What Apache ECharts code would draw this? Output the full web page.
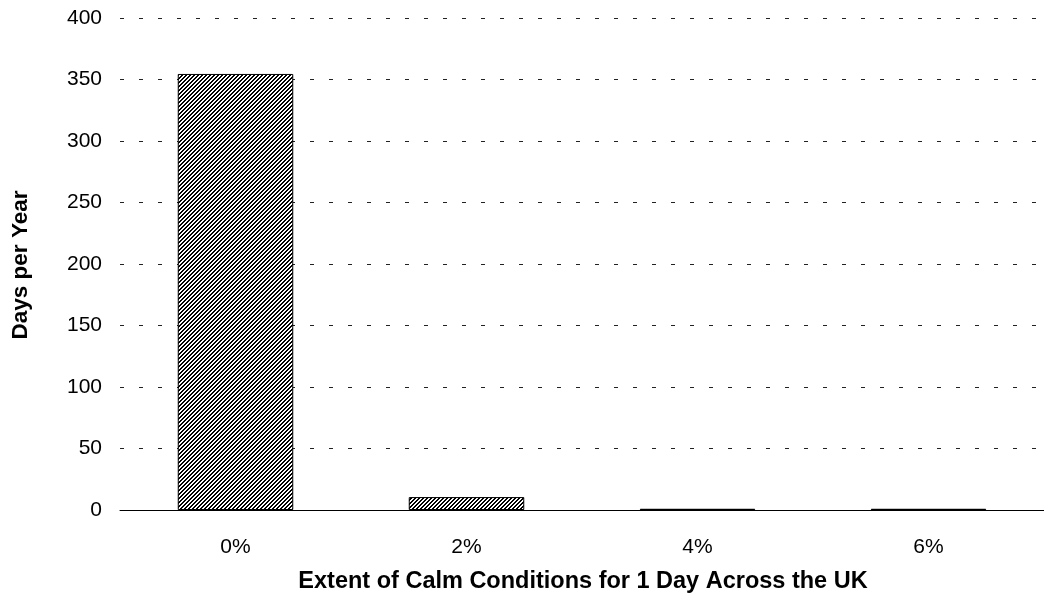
<!DOCTYPE html>
<html>
<head>
<meta charset="utf-8">
<script src="https://cdn.jsdelivr.net/npm/echarts@6/dist/echarts.min.js"></script>
<style>
  html, body { margin: 0; padding: 0; background: #fff; }
  #chart { width: 1044px; height: 599px; }
</style>
</head>
<body>
<div id="chart"></div>
<script>
const categories = ['0%', '2%', '4%', '6%'];
const daysPerYear = [354.5, 10.5, 1, 1];
const yTicks = { min: 0, max: 400, interval: 50 };

// crisp "/" hatch, one pixel at a time
function hatch() {
  const c = document.createElement('canvas');
  c.width = 4; c.height = 4;
  const ctx = c.getContext('2d');
  ctx.fillStyle = '#fff';
  ctx.fillRect(0, 0, 4, 4);
  ctx.fillStyle = '#000';
  for (let y = 0; y < 4; y++) {
    for (let x = 0; x < 4; x++) {
      if ((x + y) % 4 < 2) ctx.fillRect(x, y, 1, 1);
    }
  }
  return c;
}

const chart = echarts.init(document.getElementById('chart'), null, { renderer: 'canvas' });
chart.setOption({
  animation: false,
  grid: { left: 120, right: 0, top: 18, bottom: 89 },
  xAxis: {
    type: 'category',
    data: categories,
    axisLine: { lineStyle: { color: '#000', width: 1 } },
    axisTick: { show: false },
    axisLabel: { color: '#000', fontSize: 21, fontFamily: 'Liberation Sans', margin: 27 }
  },
  yAxis: {
    type: 'value',
    min: yTicks.min, max: yTicks.max, interval: yTicks.interval,
    axisLine: { show: false },
    axisTick: { show: false },
    axisLabel: { color: '#000', fontSize: 21, fontFamily: 'Liberation Sans', margin: 18 },
    splitLine: { lineStyle: { color: '#222', width: 1, type: [4, 15] } }
  },
  series: [{
    type: 'bar',
    data: daysPerYear,
    barWidth: '50%',
    itemStyle: {
      color: { image: hatch(), repeat: 'repeat' },
      borderColor: '#000',
      borderWidth: 1
    }
  }],
  graphic: [
    {
      type: 'text', x: 583, y: 594,
      style: { text: 'Extent of Calm Conditions for 1 Day Across the UK', fill: '#000',
        font: 'bold 23.5px "Liberation Sans"', align: 'center', verticalAlign: 'bottom' }
    },
    {
      type: 'text', x: 9, y: 265, rotation: Math.PI / 2,
      style: { text: 'Days per Year', fill: '#000', font: 'bold 22.5px "Liberation Sans"',
        align: 'center', verticalAlign: 'top' }
    }
  ]
});
</script>
</body>
</html>
